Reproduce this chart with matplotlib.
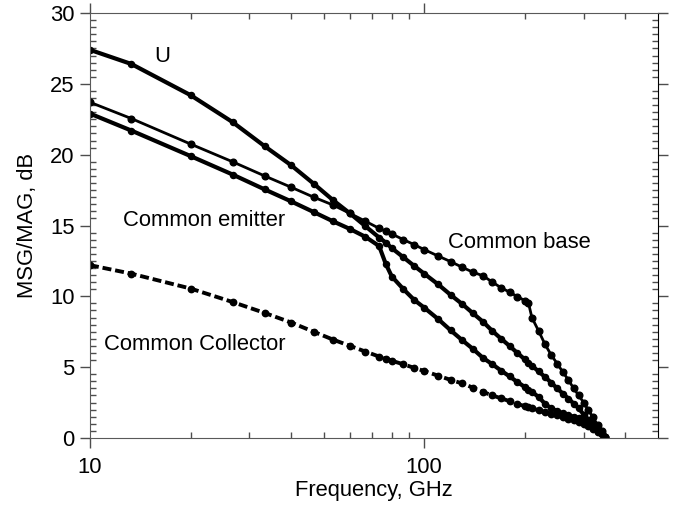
import matplotlib

matplotlib.use("Agg")
import matplotlib.pyplot as plt
from matplotlib.ticker import FixedLocator, NullFormatter, MultipleLocator

plt.rcParams["font.family"] = ["Liberation Sans", "DejaVu Sans"]

# --- data (frequency in GHz, gain in dB) -------------------------------------

freq = [10, 13.3, 20, 26.7, 33.3, 40, 46.7, 53.3, 60, 66.7, 73.3, 76.7, 80,
        86.7, 93.3, 100, 110, 120, 130, 140, 150, 160, 170, 180, 190, 200,
        205, 210, 220, 230, 240, 250, 260, 270, 280, 290, 300, 310, 320, 330,
        340, 348]

u_gain = [27.4, 26.4, 24.2, 22.3, 20.6, 19.25, 17.95, 16.8, 15.85, 14.95,
          14.15, 13.8, 13.4, 12.75, 12.15, 11.6, 10.85, 10.1, 9.45, 8.8, 8.2,
          7.55, 7.0, 6.5, 6.0, 5.55, 5.32, 5.1, 4.7, 4.3, 3.9, 3.5, 3.13, 2.78,
          2.43, 2.1, 1.65, 1.3, 0.98, 0.65, 0.35, 0.1]

common_emitter = [22.9, 21.7, 19.9, 18.6, 17.55, 16.7, 15.95, 15.3, 14.75,
                  14.2, 13.55, 12.3, 11.4, 10.5, 9.75, 9.2, 8.4, 7.6, 6.9,
                  6.28, 5.65, 5.2, 4.75, 4.35, 3.95, 3.6, 3.42, 3.25, 2.9, 2.4,
                  2.1, 1.9, 1.75, 1.6, 1.5, 1.4, 1.3, 1.1, 0.8, 0.55, 0.3, 0.1]

common_base = [23.7, 22.55, 20.75, 19.5, 18.5, 17.7, 17.0, 16.45, 15.85, 15.3,
               14.8, 14.6, 14.4, 14.0, 13.65, 13.3, 12.85, 12.45, 12.05, 11.7,
               11.45, 11.0, 10.6, 10.3, 9.98, 9.7, 9.55, 8.5, 7.55, 6.6, 5.85,
               5.25, 4.65, 4.1, 3.5, 3.0, 2.5, 1.96, 1.45, 0.93, 0.5, 0.1]

common_collector = [12.2, 11.6, 10.55, 9.6, 8.83, 8.15, 7.5, 6.95, 6.5, 6.1,
                    5.75, 5.6, 5.45, 5.2, 4.95, 4.73, 4.4, 4.1, 3.85, 3.55,
                    3.25, 3.0, 2.8, 2.6, 2.4, 2.25, 2.17, 2.1, 1.95, 1.8, 1.7,
                    1.6, 1.5, 1.35, 1.25, 1.1, 1.0, 0.85, 0.65, 0.45, 0.25, 0.1]

x_major = [10, 100]
x_minor = [20, 30, 40, 50, 60, 70, 80, 90, 200, 300, 400]

# (label, x px, y px from top) for the in-plot annotations
labels = [
    ("U", 162, 56),
    ("Common emitter", 204, 221),
    ("Common base", 519, 243),
    ("Common Collector", 195, 344),
]

FS = 15.8

# --- figure ------------------------------------------------------------------

fig = plt.figure(figsize=(6.74, 5.08), dpi=100)
ax = fig.add_axes([0.1335, 0.1378, 0.8425, 0.8366])

ax.plot(freq, u_gain, "k-", lw=3.0, marker="o", ms=4.4)
ax.plot(freq, common_emitter, "k-", lw=3.0, marker="o", ms=4.4)
ax.plot(freq, common_base, "k-", lw=2.0, marker="o", ms=4.8)
ax.plot(freq, common_collector, color="k", ls=(0, (2.3, 1.0)), lw=2.8,
        marker="o", ms=4.6)

ax.set_xscale("log")
ax.set_xlim(10, 500)
ax.set_ylim(0, 30)

ax.xaxis.set_major_locator(FixedLocator(x_major))
ax.xaxis.set_minor_locator(FixedLocator(x_minor))
ax.xaxis.set_minor_formatter(NullFormatter())
ax.set_xticklabels([str(v) for v in x_major])
ax.yaxis.set_major_locator(MultipleLocator(5))
ax.yaxis.set_minor_locator(MultipleLocator(0.5))

ax.tick_params(which="major", direction="out", length=7, width=1,
               color="0.3", labelsize=FS, top=True, right=True)
ax.tick_params(which="minor", direction="in", length=4, width=1,
               color="0.3", top=True, right=True)
ax.tick_params(axis="x", which="major", pad=7)
ax.tick_params(axis="y", which="major", pad=4)
for side in ("left", "bottom", "top"):
    ax.spines[side].set_color("0.35")
ax.spines["right"].set_color("k")

ax.set_xlabel("Frequency, GHz", fontsize=FS, labelpad=1)
ax.set_ylabel("MSG/MAG, dB", fontsize=FS, labelpad=9)

for text, px, py in labels:
    ax.annotate(text, xy=(px, 508 - py), xycoords="figure pixels",
                fontsize=FS, ha="center", va="center")

fig.savefig("out.png", dpi=100)
